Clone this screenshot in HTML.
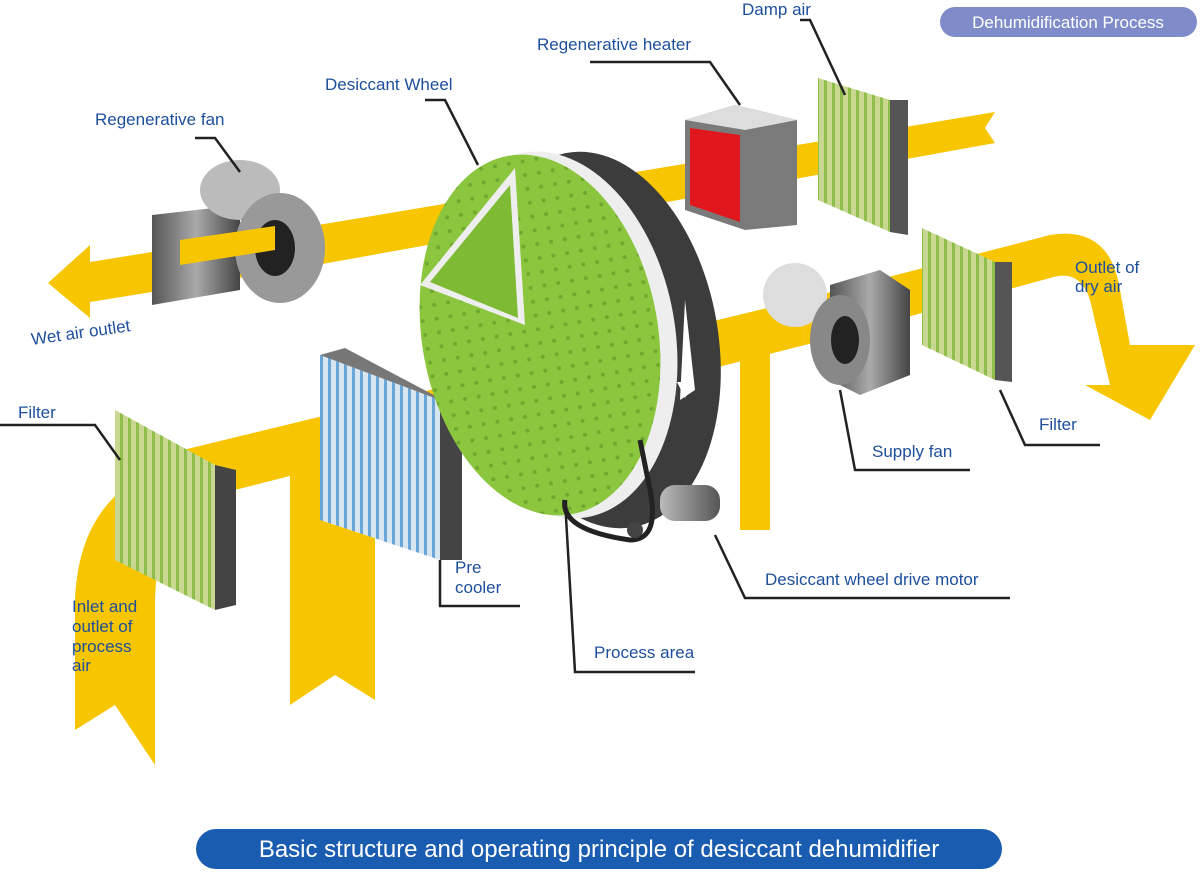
<!DOCTYPE html>
<html><head><meta charset="utf-8"><style>
body{margin:0;background:#fff}
svg{display:block}
text{font-family:"Liberation Sans",sans-serif;fill:#1d4f9c;font-size:17px}
</style></head><body>
<svg width="1200" height="872" viewBox="0 0 1200 872" xmlns="http://www.w3.org/2000/svg">
<defs>
<linearGradient id="gm" x1="0" x2="1"><stop offset="0" stop-color="#555"/><stop offset=".5" stop-color="#aaa"/><stop offset="1" stop-color="#444"/></linearGradient>
<linearGradient id="gf" x1="0" x2="1"><stop offset="0" stop-color="#bbb"/><stop offset="1" stop-color="#555"/></linearGradient>
<pattern id="stG" width="8" height="8" patternUnits="userSpaceOnUse"><rect width="8" height="8" fill="#c8d890"/><rect width="3" height="8" fill="#8fbf4a"/></pattern>
<pattern id="stB" width="8" height="8" patternUnits="userSpaceOnUse"><rect width="8" height="8" fill="#d8e6f2"/><rect width="3" height="8" fill="#6aa6d8"/></pattern>
<pattern id="dots" width="14" height="14" patternUnits="userSpaceOnUse"><rect width="14" height="14" fill="#8cc63f"/><circle cx="7" cy="7" r="2" fill="#6fa82e"/></pattern>
</defs>

<!-- upper yellow band (regeneration) -->
<polygon points="995,112 985,128 995,143 300,268 90,302 90,318 48,283 90,245 90,262 300,228" fill="#f7c600"/>
<!-- lower process band -->
<polygon points="150,458 800,300 805,345 215,495 180,470" fill="#f7c600"/>
<!-- inlet curve -->
<path d="M215,455 Q80,470 75,600 L75,730 L115,705 L155,765 L155,600 Q158,505 215,495 Z" fill="#f7c600"/>
<!-- T branch left -->
<polygon points="290,450 375,428 375,700 335,675 290,705" fill="#f7c600"/>
<!-- right vertical -->
<polygon points="740,330 770,322 770,530 740,530" fill="#f7c600"/>
<!-- outlet -->
<path d="M800,300 L1050,235 Q1110,225 1120,290 L1130,345 L1195,345 L1150,420 L1085,385 L1110,385 L1090,300 Q1080,268 1050,278 L805,345 Z" fill="#f7c600"/>
<!-- arrow at supply fan -->
<polygon points="810,290 845,335 815,360" fill="#f7c600"/>

<!-- regenerative fan -->
<polygon points="152,215 240,205 240,290 152,305" fill="url(#gm)"/>
<ellipse cx="240" cy="190" rx="40" ry="30" fill="#bbb"/>
<ellipse cx="280" cy="248" rx="45" ry="55" fill="#999"/>
<ellipse cx="275" cy="248" rx="20" ry="28" fill="#222"/>
<polygon points="180,240 275,226 275,250 180,265" fill="#f7c600"/>

<!-- regenerative heater -->
<polygon points="685,120 735,105 797,120 797,225 745,230 685,210" fill="#7a7a7a"/>
<polygon points="685,120 735,105 797,120 745,130" fill="#ddd"/>
<polygon points="690,128 740,135 740,222 690,205" fill="#e0181d"/>

<!-- damp air filter -->
<polygon points="818,78 890,100 890,232 818,200" fill="url(#stG)"/>
<polygon points="890,100 908,100 908,235 890,232" fill="#555"/>

<!-- right filter -->
<polygon points="922,228 995,262 995,380 922,345" fill="url(#stG)"/>
<polygon points="995,262 1012,262 1012,382 995,380" fill="#555"/>

<!-- supply fan -->
<ellipse cx="795" cy="295" rx="32" ry="32" fill="#ddd"/>
<polygon points="830,285 880,270 910,290 910,375 860,395 830,380" fill="url(#gm)"/>
<ellipse cx="840" cy="340" rx="30" ry="45" fill="#888"/>
<ellipse cx="845" cy="340" rx="14" ry="24" fill="#222"/>

<!-- pre cooler -->
<polygon points="320,355 440,400 440,560 320,520" fill="url(#stB)"/>
<polygon points="440,400 462,410 462,560 440,560" fill="#444"/>
<polygon points="320,355 345,348 462,410 440,400" fill="#777"/>

<!-- left filter -->
<polygon points="115,410 215,465 215,610 115,560" fill="url(#stG)"/>
<polygon points="215,465 236,470 236,605 215,610" fill="#444"/>

<!-- desiccant wheel -->
<ellipse cx="600" cy="340" rx="118" ry="190" fill="#3c3c3c" transform="rotate(-10 600 340)"/>
<ellipse cx="555" cy="335" rx="120" ry="185" fill="#eee" transform="rotate(-10 555 335)"/>
<ellipse cx="540" cy="335" rx="118" ry="182" fill="url(#dots)" transform="rotate(-10 540 335)"/>
<polygon points="420,285 515,168 525,325" fill="#eee"/>
<polygon points="430,282 510,185 518,318" fill="#7fba35"/>
<path d="M685,300 L695,390 L680,400 Z" fill="#fff"/>
<polygon points="677,382 693,382 685,398" fill="#fff"/>
<!-- belt + motor -->
<path d="M565,500 Q560,530 630,540 Q660,540 650,490 L640,440" fill="none" stroke="#222" stroke-width="5"/>
<rect x="660" y="485" width="60" height="36" rx="15" fill="url(#gf)"/>
<circle cx="635" cy="530" r="8" fill="#444"/>

<!-- leader lines -->
<g stroke="#222" stroke-width="2.5" fill="none">
<polyline points="800,20 810,20 845,95"/>
<polyline points="590,62 710,62 740,105"/>
<polyline points="425,100 445,100 478,165"/>
<polyline points="195,138 215,138 240,172"/>
<polyline points="0,425 95,425 120,460"/>
<polyline points="520,606 440,606 440,560"/>
<polyline points="695,672 575,672 565,500"/>
<polyline points="1010,598 745,598 715,535"/>
<polyline points="970,470 855,470 840,390"/>
<polyline points="1100,445 1025,445 1000,390"/>
</g>

<!-- labels -->
<text x="742" y="15">Damp air</text>
<text x="537" y="50">Regenerative heater</text>
<text x="325" y="90">Desiccant Wheel</text>
<text x="95" y="125">Regenerative fan</text>
<text x="32" y="345" transform="rotate(-8 32 345)">Wet air outlet</text>
<text x="18" y="418">Filter</text>
<text x="1075" y="273">Outlet of</text>
<text x="1075" y="292">dry air</text>
<text x="1039" y="430">Filter</text>
<text x="872" y="457">Supply fan</text>
<text x="455" y="573">Pre</text>
<text x="455" y="593">cooler</text>
<text x="765" y="585">Desiccant wheel drive motor</text>
<text x="594" y="658">Process area</text>
<text x="72" y="612">Inlet and</text>
<text x="72" y="632">outlet of</text>
<text x="72" y="652">process</text>
<text x="72" y="671">air</text>

<!-- pills -->
<rect x="940" y="7" width="257" height="30" rx="15" fill="#7f8cc9"/>
<text x="1068" y="28" text-anchor="middle" style="fill:#fff;font-size:17px">Dehumidification Process</text>
<rect x="196" y="829" width="806" height="40" rx="20" fill="#1a5cb0"/>
<text x="599" y="857" text-anchor="middle" style="fill:#fff;font-size:24px">Basic structure and operating principle of desiccant dehumidifier</text>
</svg>
</body></html>
